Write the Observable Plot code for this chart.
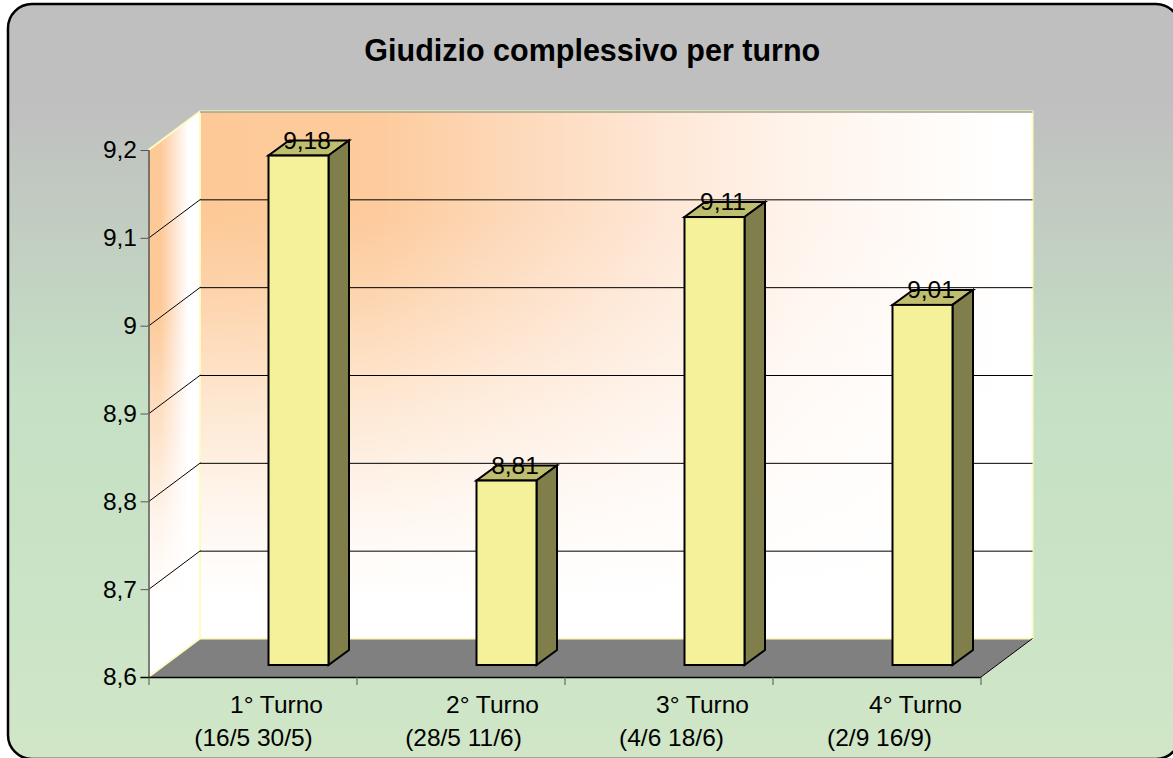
<!DOCTYPE html>
<html><head><meta charset="utf-8">
<script src="https://cdn.jsdelivr.net/npm/d3@7"></script>
<script src="https://cdn.jsdelivr.net/npm/@observablehq/plot@0.6"></script>
<style>html,body{margin:0;padding:0;background:#fff}svg{display:block}</style>
</head><body><div id="c"></div>
<script>
const categories = ["1° Turno","2° Turno","3° Turno","4° Turno"];
const periods = ["(16/5 30/5)","(28/5 11/6)","(4/6 18/6)","(2/9 16/9)"];
const values = [9.18,8.81,9.11,9.01];
const yTicks = [8.6,8.7,8.8,8.9,9,9.1,9.2];
const title = "Giudizio complessivo per turno";

const FONT = "'Liberation Sans', Arial, sans-serif";
const W = 1173, H = 758;
const wallDx = 51.5, wallDy = -38.5;   // depth of the chart box
const barDx = 45.5, barDy = -12;       // where the bars stand in the box
const depthX = 20.5, depthY = -15;     // depth of each bar
const barInset = 74;
const nameShift = [23,31,33,38];
const periodShift = [0,2,2,2];
const comma = d => String(d).replace(".",",");
const rows = categories.map((c,i)=>({c, v:values[i], p:periods[i], s:nameShift[i], q:periodShift[i]}));
const NS = "http://www.w3.org/2000/svg";
function el(n,a,p){const e=document.createElementNS(NS,n);for(const k in a)e.setAttribute(k,a[k]);if(p)p.appendChild(e);return e;}
function poly(g,pts,a){return el("polygon",{points:pts.map(p=>p.join(",")).join(" "),...a},g);}
function stops(parent,list){list.forEach(([o,c,op])=>el("stop",{offset:o,"stop-color":c,"stop-opacity":op??1},parent));}
const fade = list => list.map(([o,m])=>[o,"#ffffff",1-m]);

function backdrop(index,{x,y},values,dim){
  const g=el("g",{});
  const d=el("defs",{},g);
  stops(el("linearGradient",{id:"bg",x1:0,y1:0,x2:0,y2:1},d),[[0,"#bfbfbf"],[.13,"#bfbfbf"],[.52,"#c5e0c5"],[1,"#d0e6c7"]]);
  const y0=y(8.6), y1=y(9.2), xa=dim.marginLeft, xb=dim.width-dim.marginRight;
  stops(el("linearGradient",{id:"wallH",gradientUnits:"userSpaceOnUse",x1:xa+wallDx,y1:0,x2:xb+wallDx-30,y2:0},d),[[0,"#fdc997"],[.22,"#fdcb9c"],[.37,"#fdd7b6"],[.55,"#fee5d2"],[.75,"#fff4ec"],[1,"#ffffff"]]);
  stops(el("linearGradient",{id:"wallV",gradientUnits:"userSpaceOnUse",x1:0,y1:y1+wallDy,x2:0,y2:y0+wallDy},d),fade([[0,1],[.2,1],[.36,.78],[.55,.45],[.74,.18],[.92,0]]));
  stops(el("linearGradient",{id:"sideH",gradientUnits:"userSpaceOnUse",x1:xa,y1:0,x2:xa+wallDx-12,y2:0},d),[[0,"#fdc997"],[.3,"#fdc997"],[.7,"#fee6d4"],[1,"#ffffff"]]);
  stops(el("linearGradient",{id:"sideV",gradientUnits:"userSpaceOnUse",x1:0,y1:y1,x2:0,y2:y0},d),fade([[0,1],[.3,1],[.5,.6],[.7,.2],[.85,0]]));
  el("rect",{x:8,y:4,width:1172,height:755,rx:24,ry:24,fill:"url(#bg)",stroke:"#000","stroke-width":2.5},g);
  const wall={x:xa+wallDx,y:y1+wallDy,width:xb-xa,height:y0-y1};
  el("rect",{...wall,fill:"url(#wallH)"},g);
  el("rect",{...wall,fill:"url(#wallV)"},g);
  const side=[[xa,y1],[xa+wallDx,y1+wallDy],[xa+wallDx,y0+wallDy],[xa,y0]];
  poly(g,side,{fill:"url(#sideH)"});
  poly(g,side,{fill:"url(#sideV)"});
  poly(g,[[xa,y0],[xb,y0],[xb+wallDx,y0+wallDy],[xa+wallDx,y0+wallDy]],{fill:"#808080"});
  const edge={fill:"none",stroke:"#fdfbc4","stroke-width":2};
  el("polyline",{points:[[xa,y1],[xa+wallDx,y1+wallDy],[xb+wallDx,y1+wallDy],[xb+wallDx,y0+wallDy],[xa+wallDx,y0+wallDy],[xa+wallDx,y1+wallDy]].join(" "),...edge},g);
  el("line",{x1:xa+wallDx,x2:xa,y1:y0+wallDy,y2:y0,...edge},g);
  return g;
}
function wallLines(index,{y},values,dim){
  const g=el("g",{stroke:"#000","stroke-width":1}), xa=dim.marginLeft+.5, xb=dim.width-dim.marginRight;
  yTicks.slice(1,-1).forEach(t=>el("line",{x1:xa,x2:xa+wallDx,y1:y(t),y2:y(t)+wallDy},g));
  el("line",{x1:xb,x2:xb+wallDx,y1:y(8.6),y2:y(8.6)+wallDy},g);
  return g;
}
function barFaces(index,{x,y}){
  const g=el("g",{stroke:"#000","stroke-width":2,"stroke-linejoin":"miter"});
  const bw=x(categories[1])-x(categories[0]);
  for(const r of rows){
    const xl=x(r.c)+barInset+barDx, xr=x(r.c)+bw-barInset+barDx, t=y(r.v)+barDy, b=y(8.6)+barDy;
    poly(g,[[xl,t],[xr,t],[xr+depthX,t+depthY],[xl+depthX,t+depthY]],{fill:"#bfbd6e"});
    poly(g,[[xr,t],[xr+depthX,t+depthY],[xr+depthX,b+depthY],[xr,b]],{fill:"#807f4c"});
  }
  return g;
}
function xTicks(index,{x,y},values,dim){
  const g=el("g",{stroke:"#555","stroke-width":1}), y0=y(8.6);
  const bw=x(categories[1])-x(categories[0]);
  const edges=[...categories.map(c=>x(c)),x(categories[3])+bw];
  edges.forEach(e=>el("line",{x1:e,x2:e,y1:y0,y2:y0+8},g));
  return g;
}
const plot = Plot.plot({
  width:W,height:H,
  marginLeft:148.5,marginRight:192,marginTop:150,marginBottom:81,
  style:{fontFamily:FONT,background:"#fff",overflow:"visible"},
  x:{domain:categories,padding:0,axis:null,label:null},
  y:{domain:[8.6,9.2],ticks:yTicks,axis:null,label:null},
  marks:[
    backdrop,
    Plot.ruleY(yTicks.slice(1),{y:d=>d,dx:wallDx,dy:wallDy,stroke:d=>d===9.2?"#777":"#000",strokeWidth:1}),
    wallLines,
    Plot.ruleX([8.6],{x:()=>categories[0],y1:8.6,y2:9.2,stroke:"#555",strokeWidth:1.5,dx:-104.5}),
    Plot.axisY({ticks:yTicks,tickFormat:comma,label:null,tickSize:8,tickPadding:4,fontSize:24.5,stroke:"#555",fill:"#000",marginLeft:148.5}),
    Plot.ruleY([8.6],{stroke:"#000",strokeWidth:1.5,insetLeft:-8}),
    xTicks,
    barFaces,
    Plot.barY(rows,{x:"c",y1:()=>8.6,y2:"v",dx:barDx,dy:barDy,insetLeft:barInset,insetRight:barInset,fill:"#f5f19a",stroke:"#000",strokeWidth:2}),
    Plot.text(rows,{x:"c",y:"v",text:d=>comma(d.v),dx:barDx+8,dy:barDy-15,fontSize:24.5,fill:"#000",lineAnchor:"middle"}),
    ...rows.map(r=>Plot.text([r],{x:"c",text:"c",frameAnchor:"bottom",dy:28,dx:r.s,fontSize:24.5,fill:"#000",lineAnchor:"middle"})),
    ...rows.map(r=>Plot.text([r],{x:"c",text:"p",frameAnchor:"bottom",dy:61,dx:r.q,fontSize:24.5,fill:"#000",lineAnchor:"middle"})),
    Plot.text([title],{text:d=>d,frameAnchor:"top",dy:-99,dx:27,fontSize:30.5,fontWeight:"bold",fill:"#000",lineAnchor:"middle"})
  ]
});
document.getElementById("c").appendChild(plot);
</script></body></html>
